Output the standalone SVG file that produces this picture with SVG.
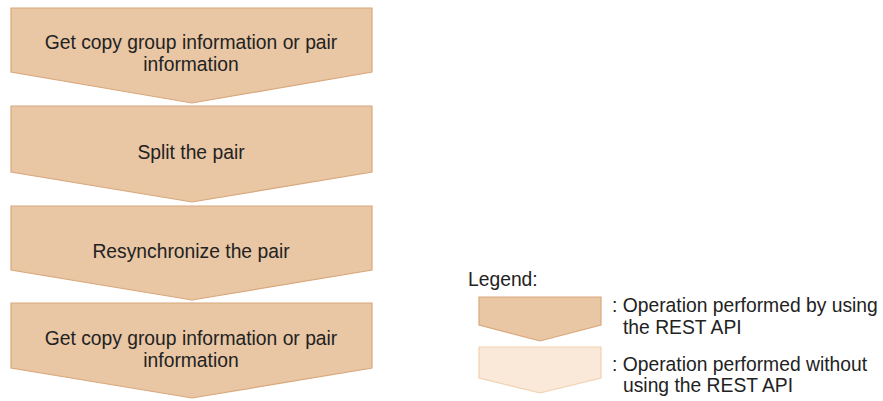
<svg xmlns="http://www.w3.org/2000/svg" width="883" height="401" viewBox="0 0 883 401">
<style>
.api{fill:#e9c6a4;stroke:#d9a87c;stroke-width:1.2}
.noapi{fill:#fae9d9;stroke:#f1d1b1;stroke-width:1.2}
text{font-family:"Liberation Sans",Arial,sans-serif;font-size:19.3px;fill:#222}
.c{text-anchor:middle}
</style>
<rect width="883" height="401" fill="#fff"/>
<g id="step1">
<polygon class="api" points="11,8 372,8 372,72 192,103 11,72"/>
<text class="c" x="191" y="49">Get copy group information or pair</text>
<text class="c" x="191" y="71">information</text>
</g>
<g id="step2">
<polygon class="api" points="11,106 372,106 372,172 192,202 11,172"/>
<text class="c" x="191" y="159">Split the pair</text>
</g>
<g id="step3">
<polygon class="api" points="11,206 372,206 372,270 192,300 11,270"/>
<text class="c" x="191" y="258">Resynchronize the pair</text>
</g>
<g id="step4">
<polygon class="api" points="11,303 372,303 372,368 192,398 11,368"/>
<text class="c" x="191" y="345">Get copy group information or pair</text>
<text class="c" x="191" y="367">information</text>
</g>
<g id="connectors"></g>
<g id="legend">
<text x="468" y="286">Legend:</text>
<g id="legend-api">
<polygon class="api" points="479,297 601,297 601,325 540,341 479,325"/>
<text x="612" y="312">: Operation performed by using</text>
<text x="623" y="334">the REST API</text>
</g>
<g id="legend-noapi">
<polygon class="noapi" points="479,347 601,347 601,378 540,393 479,378"/>
<text x="612" y="371">: Operation performed without</text>
<text x="623" y="392">using the REST API</text>
</g>
</g>
</svg>
